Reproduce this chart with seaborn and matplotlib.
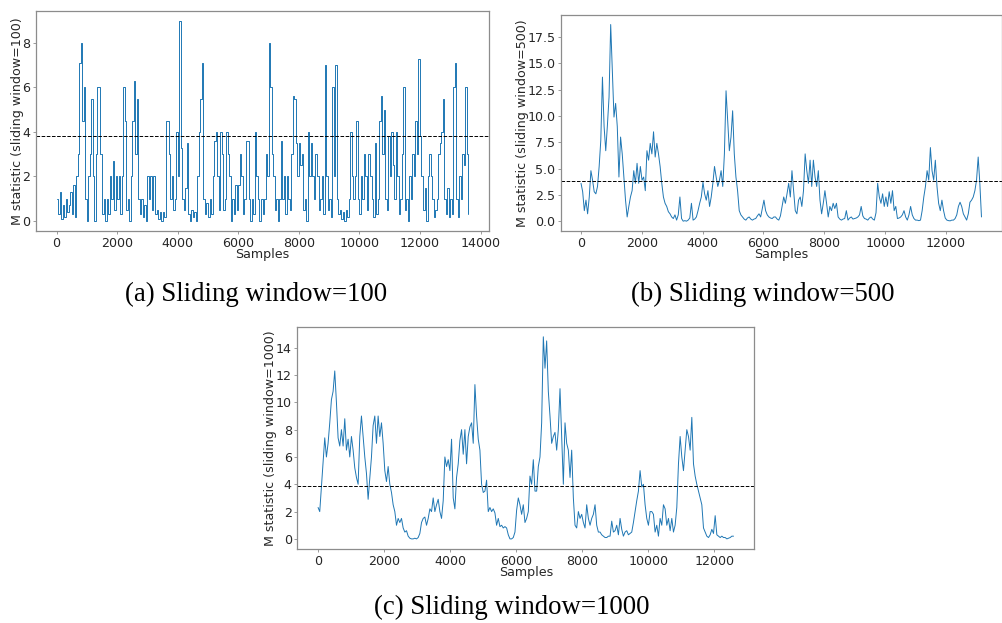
import numpy as np
import pandas as pd
import matplotlib
matplotlib.use("Agg")
import matplotlib.pyplot as plt
import seaborn as sns

# ---------------- data ----------------
# (a) sliding window = 100, one value every 50 samples, 0..13600
m_a = [
    1.0, 0.3, 1.3, 0.1, 0.7, 0.2, 1.0, 0.4, 0.7, 1.3, 0.3, 1.6, 0.2, 2.0, 3.0, 7.1, 8.0, 4.5, 6.0, 1.0,
    0.0, 2.0, 3.0, 5.5, 2.0, 0.0, 3.0, 6.0, 6.0, 3.0, 0.3, 1.0, 0.0, 1.0, 0.3, 2.0, 1.0, 2.7, 0.5, 2.0,
    1.0, 2.0, 0.3, 2.0, 6.0, 4.5, 0.5, 1.0, 0.0, 2.0, 4.5, 6.3, 3.0, 5.5, 1.0, 0.3, 1.0, 0.2, 0.7, 0.0,
    2.0, 1.0, 2.0, 0.5, 2.0, 0.3, 0.5, 0.1, 0.4, 0.0, 0.4, 0.2, 4.5, 4.5, 3.0, 1.0, 2.0, 0.5, 1.0, 4.0,
    2.0, 9.0, 3.3, 1.0, 0.5, 1.5, 3.5, 0.3, 0.0, 0.5, 0.2, 0.4, 0.0, 2.0, 4.0, 5.5, 7.1, 1.0, 0.3, 0.8,
    0.2, 1.0, 0.3, 2.0, 3.6, 4.0, 2.0, 0.5, 4.0, 3.0, 0.5, 1.0, 4.0, 3.0, 2.0, 0.0, 1.0, 0.3, 1.6, 0.5,
    1.6, 3.0, 2.0, 0.3, 1.0, 3.6, 3.6, 1.0, 0.0, 1.0, 0.3, 4.0, 2.0, 1.0, 0.0, 1.0, 0.3, 1.0, 3.0, 2.0,
    8.0, 6.0, 3.0, 2.0, 0.5, 1.0, 0.0, 1.0, 3.6, 1.0, 2.0, 0.3, 2.0, 1.0, 0.5, 3.0, 5.6, 5.5, 3.5, 2.0,
    3.5, 2.5, 3.0, 0.5, 1.0, 0.0, 4.0, 2.0, 3.5, 2.0, 1.0, 3.0, 2.0, 0.5, 1.0, 2.0, 0.3, 7.0, 2.0, 0.5,
    1.0, 0.2, 6.0, 2.0, 7.0, 1.0, 0.3, 0.5, 0.1, 0.4, 0.0, 0.5, 0.2, 1.0, 4.0, 2.0, 1.0, 2.0, 4.5, 1.0,
    0.3, 2.0, 1.0, 3.0, 2.0, 0.5, 3.0, 2.0, 1.0, 0.2, 3.5, 0.3, 1.0, 4.5, 5.6, 3.0, 5.0, 1.0, 0.5, 3.8,
    2.0, 4.0, 2.5, 1.0, 4.0, 2.0, 0.3, 1.0, 3.0, 6.0, 0.5, 1.0, 0.0, 2.0, 1.0, 3.0, 2.0, 4.5, 3.0, 7.3,
    3.8, 2.0, 0.5, 1.5, 0.0, 2.0, 3.0, 2.0, 1.0, 0.2, 0.5, 1.0, 3.0, 3.5, 4.0, 5.5, 1.0, 0.3, 1.5, 0.2,
    1.0, 0.3, 6.0, 7.1, 1.0, 0.2, 2.0, 1.0, 3.0, 2.5, 6.0, 3.0, 0.3,
]
last_a = 13600

# (b) sliding window = 500, evenly spaced readings, 0..13170
m_b = [
    3.6, 2.8, 1.0, 2.0, 0.7, 2.3, 4.8, 3.9, 2.8, 2.6, 3.3, 5.2, 7.7, 13.7, 9.0, 6.7, 9.1, 11.8, 18.7, 14.3,
    9.9, 11.2, 9.0, 4.2, 8.0, 6.4, 4.2, 2.0, 0.4, 1.4, 2.3, 2.9, 4.8, 3.6, 5.5, 3.6, 5.2, 3.9, 4.2, 2.9,
    6.7, 5.8, 7.4, 6.4, 8.5, 6.1, 7.4, 6.4, 5.2, 3.6, 2.3, 1.7, 1.4, 0.9, 0.7, 0.4, 0.25, 0.6, 0.1, 0.6,
    2.3, 0.25, 0.0, 0.05, 0.0, 0.1, 0.3, 1.7, 0.1, 0.2, 0.4, 1.0, 1.7, 2.3, 3.7, 2.6, 2.0, 2.9, 1.4, 2.3,
    3.6, 5.2, 4.2, 3.3, 3.9, 4.8, 3.3, 6.4, 12.4, 9.6, 6.7, 8.0, 10.5, 6.4, 4.2, 2.9, 1.0, 0.6, 0.4, 0.2,
    0.1, 0.3, 0.4, 0.2, 0.1, 0.2, 0.25, 0.5, 0.7, 0.4, 1.2, 2.0, 1.0, 0.6, 0.4, 0.3, 0.25, 0.4, 0.4, 0.2,
    0.1, 0.5, 1.4, 2.3, 1.7, 2.6, 3.6, 2.3, 4.8, 2.9, 1.0, 0.7, 2.0, 2.3, 1.4, 2.9, 6.4, 4.8, 3.6, 5.8,
    3.3, 5.8, 4.2, 3.3, 4.8, 2.0, 0.7, 1.7, 2.9, 1.7, 0.4, 1.4, 1.0, 1.7, 1.2, 1.7, 0.4, 0.2, 0.1, 0.2,
    0.25, 1.0, 0.1, 0.3, 0.4, 0.2, 0.25, 0.3, 0.4, 0.6, 1.4, 0.5, 0.25, 0.2, 0.1, 0.3, 0.4, 0.2, 0.1, 0.8,
    3.6, 2.3, 1.7, 2.6, 1.4, 2.3, 1.4, 2.8, 1.7, 2.9, 1.0, 1.4, 0.25, 0.3, 0.4, 0.6, 1.0, 0.4, 0.1, 0.6,
    1.4, 0.6, 0.25, 0.1, 0.1, 0.05, 0.1, 1.0, 2.3, 3.3, 4.8, 3.9, 7.0, 4.8, 3.9, 5.8, 3.3, 1.7, 1.0, 2.0,
    1.0, 0.3, 0.1, 0.05, 0.03, 0.1, 0.1, 0.25, 0.6, 1.4, 1.8, 1.4, 0.7, 0.4, 0.1, 0.7, 1.8, 2.0, 2.3, 2.9,
    3.9, 6.1, 3.6, 0.4,
]
last_b = 13170

# (c) sliding window = 1000, evenly spaced readings, 0..12590
m_c = [
    2.3, 2.0, 3.8, 5.5, 7.4, 6.0, 7.0, 8.5, 10.2, 10.8, 12.3, 10.0, 7.4, 6.8, 8.0, 6.8, 8.8, 6.5, 7.3, 6.0,
    7.5, 6.5, 5.2, 4.5, 4.0, 7.5, 9.0, 7.5, 6.0, 4.8, 2.9, 4.5, 6.0, 8.3, 9.0, 7.0, 9.0, 7.5, 8.5, 7.0,
    5.0, 4.2, 5.3, 4.0, 3.4, 2.5, 2.0, 1.0, 1.5, 1.2, 1.5, 0.8, 0.5, 0.6, 0.2, 0.05, 0.0, 0.0, 0.05, 0.0,
    0.1, 0.4, 1.2, 1.5, 1.6, 1.0, 1.5, 2.2, 2.0, 3.0, 2.0, 2.5, 2.9, 2.0, 1.5, 2.8, 6.0, 5.3, 5.8, 5.0,
    7.3, 3.0, 2.2, 4.5, 5.5, 7.2, 8.0, 6.2, 8.0, 5.5, 7.5, 8.2, 8.5, 7.0, 11.3, 9.0, 7.3, 6.5, 4.0, 3.4,
    3.5, 4.3, 2.0, 2.3, 2.0, 2.2, 1.9, 1.0, 1.5, 0.9, 1.0, 0.8, 0.9, 0.8, 0.3, 0.0, 0.0, 0.1, 0.5, 2.1,
    3.0, 2.5, 1.8, 2.5, 1.2, 1.5, 2.0, 4.6, 4.0, 5.8, 3.5, 3.5, 5.3, 6.0, 8.5, 14.8, 12.5, 14.5, 10.8, 9.0,
    7.0, 7.5, 7.8, 6.5, 8.0, 11.0, 7.5, 4.0, 8.5, 7.0, 6.5, 4.5, 6.5, 3.0, 1.0, 0.8, 2.0, 1.5, 1.8, 1.2,
    0.8, 2.5, 1.5, 1.0, 1.5, 1.8, 2.5, 1.0, 0.5, 0.5, 0.3, 0.2, 0.1, 0.1, 0.2, 0.2, 1.3, 0.5, 0.6, 1.0,
    0.3, 1.5, 0.7, 0.2, 0.5, 0.6, 0.3, 0.4, 0.5, 1.2, 2.0, 2.8, 3.5, 5.0, 3.8, 4.0, 2.5, 1.5, 1.0, 2.0,
    2.0, 1.8, 0.5, 1.0, 0.2, 1.5, 1.0, 2.5, 2.2, 1.0, 1.5, 0.6, 1.5, 0.5, 1.0, 2.3, 5.5, 7.5, 6.0, 5.0,
    6.5, 8.0, 7.5, 6.5, 8.9, 5.5, 4.6, 4.0, 3.5, 3.0, 2.5, 0.8, 0.5, 0.2, 0.1, 0.3, 0.7, 0.4, 1.7, 0.3,
    0.2, 0.1, 0.2, 0.1, 0.1, 0.0, 0.05, 0.1, 0.2, 0.2,
]
last_c = 12590

threshold = 3.84
windows = [100, 500, 1000]
captions = ["(a) Sliding window=100", "(b) Sliding window=500", "(c) Sliding window=1000"]

# ---------------- plot ----------------
sns.set_style("white", {"axes.edgecolor": "0.55"})
plt.rcParams["font.family"] = ["DejaVu Sans"]

W, H = 1002, 623
fig = plt.figure(figsize=(W / 100, H / 100), dpi=100)

def rect(l, r, t, b):
    return [l / W, 1 - b / H, (r - l) / W, (b - t) / H]

axes = [
    fig.add_axes(rect(36, 489, 10.7, 231)),
    fig.add_axes(rect(561, 1001.5, 14.7, 231)),
    fig.add_axes(rect(297.3, 754.3, 326.7, 549)),
]

series = [(m_a, last_a), (m_b, last_b), (m_c, last_c)]
styles = ["steps-post", "default", "default"]
line_color = "#1f77b4"
fs = 9.1

for ax, (vals, last), w, ds in zip(axes, series, windows, styles):
    df = pd.DataFrame({"Samples": np.linspace(0, last, len(vals)), "M": vals})
    sns.lineplot(data=df, x="Samples", y="M", ax=ax, color=line_color,
                 linewidth=0.7, estimator=None, sort=False, drawstyle=ds)
    ax.axhline(threshold, color="black", linestyle="--", linewidth=0.7)
    ax.set_xlabel("Samples", fontsize=fs, labelpad=-1)
    ax.set_ylabel(f"M statistic (sliding window={w})", fontsize=fs, labelpad=-1)
    ax.tick_params(axis="both", labelsize=fs, length=2, width=0.6, color="0.55", pad=2,
                   bottom=True, left=True)
    for s in ax.spines.values():
        s.set_linewidth(0.9)
    ax.margins(x=0.05, y=0.05)

axes[0].set_xticks(np.arange(0, 14001, 2000))
axes[1].set_xticks(np.arange(0, 12001, 2000))
axes[1].set_yticks(np.arange(0, 17.6, 2.5))
axes[1].yaxis.set_major_formatter(matplotlib.ticker.FormatStrFormatter("%.1f"))
axes[2].set_xticks(np.arange(0, 12001, 2000))
axes[2].set_yticks(np.arange(0, 15, 2))

cap_pos = [(256, 294), (763, 294), (512, 607)]
for (cx, cy), txt in zip(cap_pos, captions):
    fig.text(cx / W, 1 - cy / H, txt, ha="center", va="center", color="black",
             fontsize=19.3, family=["Liberation Serif", "DejaVu Serif"])

fig.savefig("out.png", dpi=100)
